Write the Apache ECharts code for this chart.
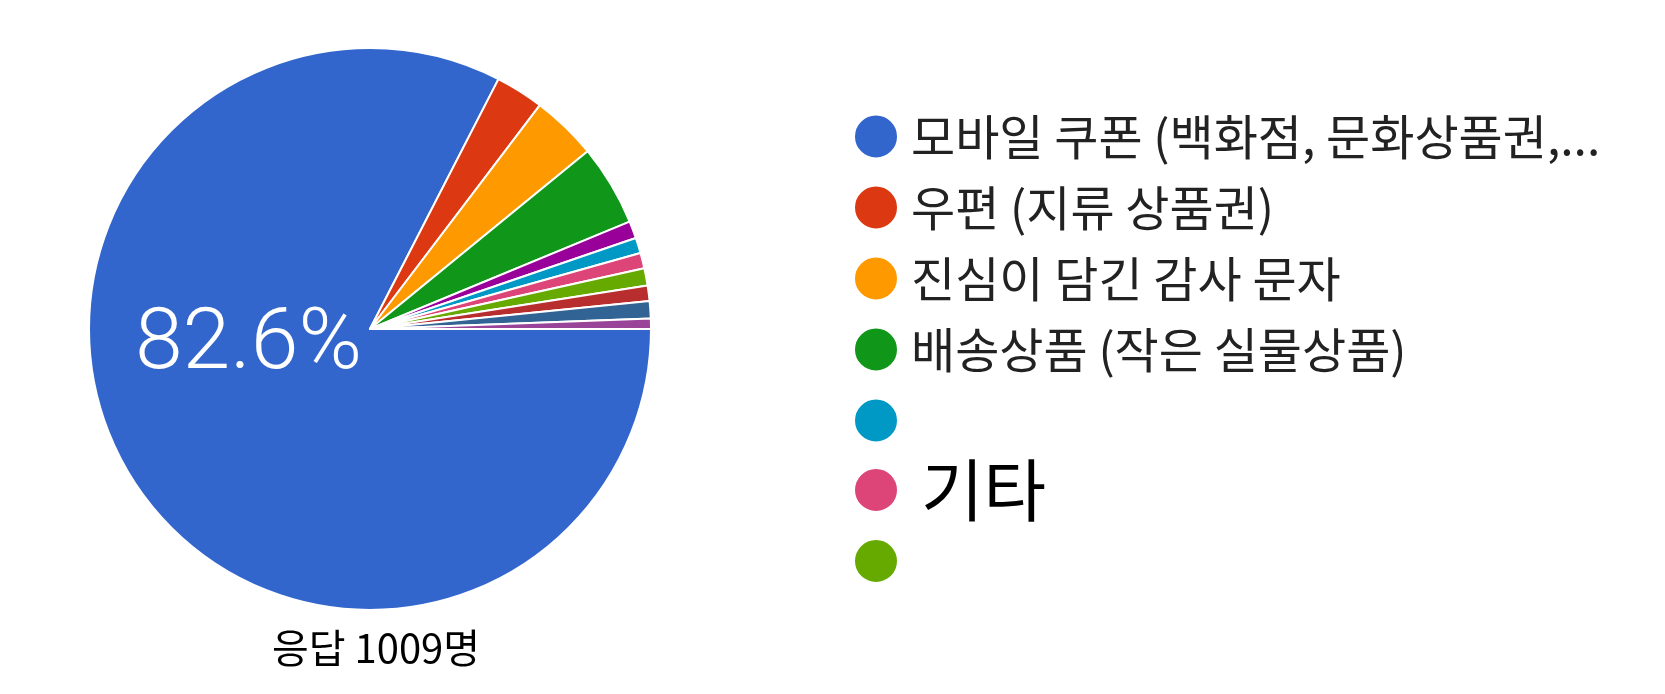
<!DOCTYPE html>
<html>
<head>
<meta charset="utf-8">
<script src="https://cdn.jsdelivr.net/npm/echarts@6/dist/echarts.min.js"></script>
<style>
html,body{margin:0;padding:0;background:#fff;}
#c{width:1665px;height:694px;}
</style>
</head>
<body>
<div id="c"></div>
<script>
// Categories (slice order, clockwise from 3 o'clock)
const categories = [
  '모바일 쿠폰 (백화점, 문화상품권,...',
  '우편 (지류 상품권)',
  '진심이 담긴 감사 문자',
  '배송상품 (작은 실물상품)',
  '기타 응답 A',
  ' ',
  '기타',
  '  ',
  '기타 응답 B',
  '기타 응답 C',
  '기타 응답 D'
];
// Respondent counts per option (total 1009)
const counts = [833, 28, 38, 47, 10, 9, 9, 10, 9, 10, 6];
// Slice colours
const colors = ['#3366cc','#dc3912','#ff9900','#109618','#990099','#0099c6','#dd4477','#66aa00','#b82e2e','#316395','#994499'];
// Options that appear in the legend (in rows)
const legendNamesTop = [
  '모바일 쿠폰 (백화점, 문화상품권,...',
  '우편 (지류 상품권)',
  '진심이 담긴 감사 문자',
  '배송상품 (작은 실물상품)',
  ' '
];
const legendNameBig = '기타';
const legendNameLast = '  ';

const total = counts.reduce((a, b) => a + b, 0);
const chart = echarts.init(document.getElementById('c'));

const baseLegend = {
  orient: 'vertical',
  left: 853,
  padding: 0,
  icon: 'circle',
  itemWidth: 44,
  itemHeight: 44,
  itemGap: 23,
  selectedMode: false,
  textStyle: {
    fontFamily: 'Noto Sans CJK KR',
    fontSize: 48,
    lineHeight: 48,
    color: '#222222',
    padding: [0, 0, 0, 8]
  }
};

chart.setOption({
  animation: false,
  color: colors,
  legend: [
    Object.assign({}, baseLegend, { top: 112.5, data: legendNamesTop }),
    Object.assign({}, baseLegend, {
      top: 456, data: [legendNameBig],
      textStyle: {
        fontFamily: 'Noto Sans CJK KR',
        fontSize: 68,
        lineHeight: 68,
        color: '#000000',
        padding: [0, 0, 0, 18]
      }
    }),
    Object.assign({}, baseLegend, { top: 537, data: [legendNameLast] })
  ],
  graphic: [{
    type: 'text',
    x: 376,
    y: 648,
    style: {
      text: '응답 ' + total + '명',
      fontFamily: 'Noto Sans CJK KR',
      fontSize: 40,
      fill: '#000000',
      align: 'center',
      verticalAlign: 'middle'
    }
  }],
  series: [{
    type: 'pie',
    center: [370, 329],
    radius: [0, 281],
    startAngle: 0,
    clockwise: true,
    avoidLabelOverlap: false,
    itemStyle: { borderColor: '#ffffff', borderWidth: 2 },
    emphasis: { disabled: true },
    label: {
      show: true,
      position: 'inside',
      offset: [1, -57],
      color: '#ffffff',
      fontFamily: 'Roboto',
      fontWeight: 300,
      fontSize: 86,
      formatter: p => p.percent >= 10 ? (p.value / total * 100).toFixed(1) + '%' : ''
    },
    labelLine: { show: false },
    data: categories.map((n, i) => ({ name: n, value: counts[i] }))
  }]
});
</script>
</body>
</html>
